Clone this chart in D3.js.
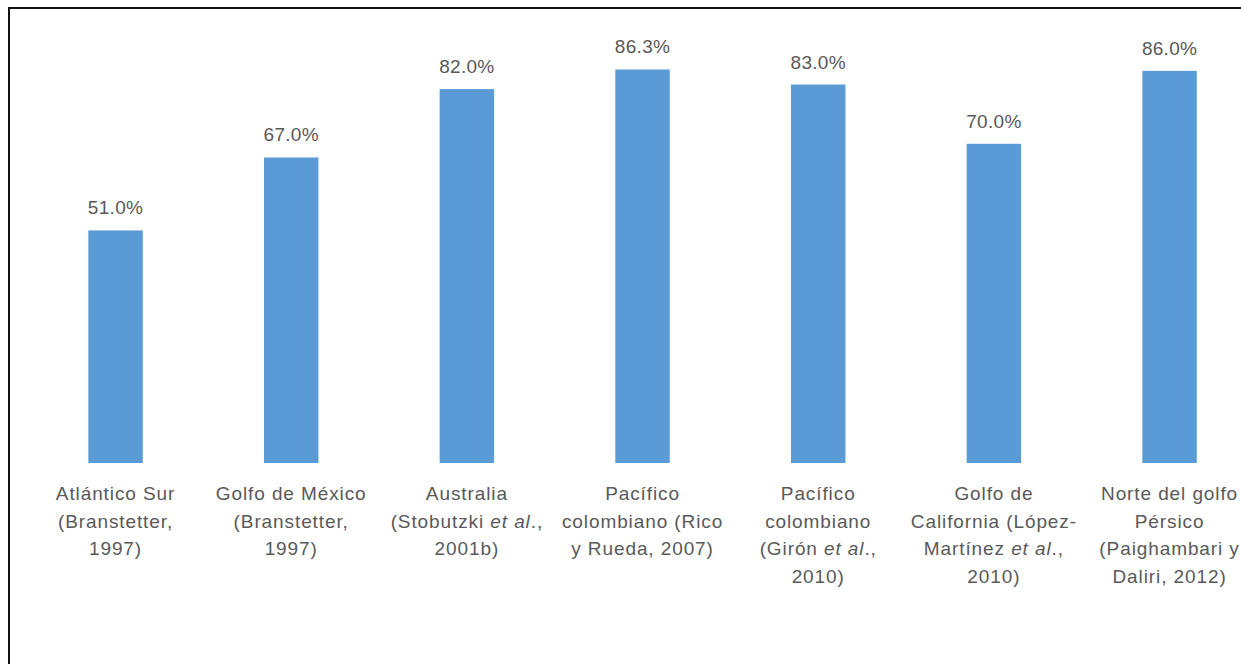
<!DOCTYPE html>
<html>
<head>
<meta charset="utf-8">
<script src="https://cdn.jsdelivr.net/npm/d3@7"></script>
<style>
  body { margin: 0; background: #ffffff; overflow: hidden; }
  svg { display: block; }
</style>
</head>
<body>
<svg id="chart"></svg>
<script>
// data
const categories = [
    "Atlántico Sur (Branstetter, 1997)",
    "Golfo de México (Branstetter, 1997)",
    "Australia (Stobutzki et al., 2001b)",
    "Pacífico colombiano (Rico y Rueda, 2007)",
    "Pacífico colombiano (Girón et al., 2010)",
    "Golfo de California (López-Martínez et al., 2010)",
    "Norte del golfo Pérsico (Paighambari y Daliri, 2012)"
];
// label lines as printed, *...* marks italic
const labelLines = [
    ["Atlántico Sur", "(Branstetter,", "1997)"],
    ["Golfo de México", "(Branstetter,", "1997)"],
    ["Australia", "(Stobutzki *et al*.,", "2001b)"],
    ["Pacífico", "colombiano (Rico", "y Rueda, 2007)"],
    ["Pacífico", "colombiano", "(Girón *et al*.,", "2010)"],
    ["Golfo de", "California (López-", "Martínez *et al*.,", "2010)"],
    ["Norte del golfo", "Pérsico", "(Paighambari y", "Daliri, 2012)"]
];
const values = [51.0, 67.0, 82.0, 86.3, 83.0, 70.0, 86.0];

const width = 1241;
const height = 664;
const fontFamily = "'Liberation Sans', Arial, sans-serif";
const textColor = "#595959";
const barColor = "#5b9bd5";

const svg = d3.select("#chart")
    .attr("width", width)
    .attr("height", height)
    .style("background-color", "#ffffff");

// frame (only left and top edges show in the crop)
svg.append("path")
    .attr("d", "M9," + height + "V8H" + width)
    .attr("fill", "none")
    .attr("stroke", "#111")
    .attr("stroke-width", 2);

const x = d3.scaleBand()
    .domain(categories)
    .range([27.7, 1257.4])
    .paddingInner(0.69)
    .paddingOuter(0.345);

const y = d3.scaleLinear()
    .domain([0, 100])
    .range([463, 7]);

const chart = svg.append("g");

chart.selectAll("rect.bar")
    .data(values)
    .join("rect")
    .attr("class", "bar")
    .attr("x", (d, i) => x(categories[i]))
    .attr("y", d => y(d))
    .attr("width", x.bandwidth())
    .attr("height", d => y(0) - y(d))
    .attr("fill", barColor);

chart.selectAll("text.value")
    .data(values)
    .join("text")
    .attr("class", "value")
    .attr("x", (d, i) => x(categories[i]) + x.bandwidth() / 2)
    .attr("y", d => y(d) - 16)
    .attr("text-anchor", "middle")
    .style("font-family", fontFamily)
    .style("font-size", "19px")
    .style("letter-spacing", "0.3px")
    .style("fill", textColor)
    .text(d => d3.format(".1f")(d) + "%");

// category labels
labelLines.forEach((lines, i) => {
    const cx = x(categories[i]) + x.bandwidth() / 2;
    const t = chart.append("text")
        .attr("text-anchor", "middle")
        .style("font-family", fontFamily)
        .style("font-size", "19px")
        .style("letter-spacing", "0.9px")
        .style("fill", textColor);
    lines.forEach((line, j) => {
        const parts = line.split("*");
        parts.forEach((p, k) => {
            if (p === "") return;
            const ts = t.append("tspan").text(p);
            if (k === 0) ts.attr("x", cx).attr("y", y(0) + 37 + j * 27.5);
            if (k % 2 === 1) ts.style("font-style", "italic");
        });
    });
});
</script>
</body>
</html>
